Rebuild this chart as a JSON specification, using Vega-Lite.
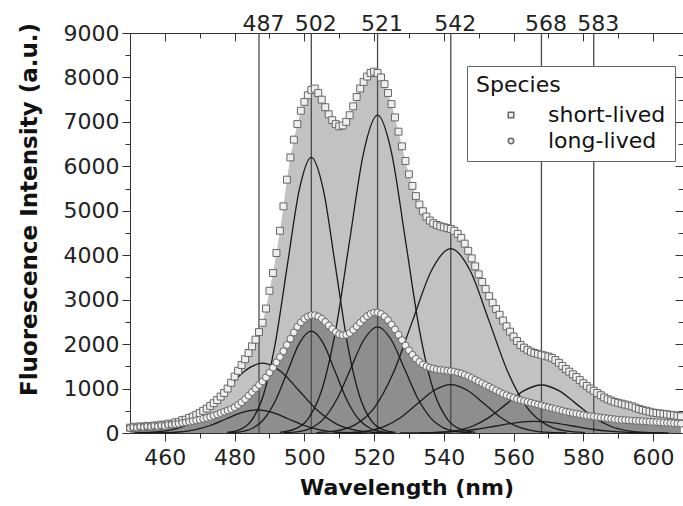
{
"$schema":"https://vega.github.io/schema/vega-lite/v6.json",
"width":553,"height":400,
"autosize":{"type":"none"},
"padding":{"left":130,"top":33,"right":0,"bottom":73},
"background":"white",
"config":{"view":{"stroke":null},"font":"DejaVu Sans",
 "axis":{"domainColor":"#333","tickColor":"#333","labelColor":"#222","titleColor":"#111","labelFont":"DejaVu Sans","titleFont":"DejaVu Sans","grid":false}},
"resolve":{"axis":{"x":"independent","y":"independent"}},
"datasets":{
"spec":[
{"w":450,"short-lived":120,"long-lived":110},{"w":451,"short-lived":140,"long-lived":130},{"w":452,"short-lived":110,"long-lived":120},{"w":453,"short-lived":150,"long-lived":140},{"w":454,"short-lived":130,"long-lived":130},{"w":455,"short-lived":160,"long-lived":150},{"w":456,"short-lived":140,"long-lived":140},{"w":457,"short-lived":170,"long-lived":160},{"w":458,"short-lived":160,"long-lived":150},{"w":459,"short-lived":190,"long-lived":170},
{"w":460,"short-lived":180,"long-lived":160},{"w":461,"short-lived":210,"long-lived":180},{"w":462,"short-lived":200,"long-lived":190},{"w":463,"short-lived":240,"long-lived":200},{"w":464,"short-lived":250,"long-lived":210},{"w":465,"short-lived":290,"long-lived":230},{"w":466,"short-lived":300,"long-lived":240},{"w":467,"short-lived":340,"long-lived":255},{"w":468,"short-lived":370,"long-lived":270},{"w":469,"short-lived":410,"long-lived":285},
{"w":470,"short-lived":450,"long-lived":300},{"w":471,"short-lived":500,"long-lived":320},{"w":472,"short-lived":550,"long-lived":340},{"w":473,"short-lived":610,"long-lived":360},{"w":474,"short-lived":670,"long-lived":390},{"w":475,"short-lived":740,"long-lived":420},{"w":476,"short-lived":820,"long-lived":450},{"w":477,"short-lived":900,"long-lived":480},{"w":478,"short-lived":1000,"long-lived":510},{"w":479,"short-lived":1130,"long-lived":540},
{"w":480,"short-lived":1270,"long-lived":580},{"w":481,"short-lived":1400,"long-lived":630},{"w":482,"short-lived":1530,"long-lived":690},{"w":483,"short-lived":1660,"long-lived":760},{"w":484,"short-lived":1800,"long-lived":840},{"w":485,"short-lived":1950,"long-lived":920},{"w":486,"short-lived":2100,"long-lived":1000},{"w":487,"short-lived":2270,"long-lived":1080},{"w":488,"short-lived":2480,"long-lived":1160},{"w":489,"short-lived":2800,"long-lived":1250},
{"w":490,"short-lived":3200,"long-lived":1360},{"w":491,"short-lived":3600,"long-lived":1470},{"w":492,"short-lived":4050,"long-lived":1590},{"w":493,"short-lived":4550,"long-lived":1710},{"w":494,"short-lived":5100,"long-lived":1840},{"w":495,"short-lived":5700,"long-lived":1980},{"w":496,"short-lived":6200,"long-lived":2120},{"w":497,"short-lived":6600,"long-lived":2260},{"w":498,"short-lived":6950,"long-lived":2390},{"w":499,"short-lived":7250,"long-lived":2490},
{"w":500,"short-lived":7450,"long-lived":2570},{"w":501,"short-lived":7600,"long-lived":2620},{"w":502,"short-lived":7720,"long-lived":2650},{"w":503,"short-lived":7750,"long-lived":2650},{"w":504,"short-lived":7650,"long-lived":2620},{"w":505,"short-lived":7500,"long-lived":2570},{"w":506,"short-lived":7330,"long-lived":2500},{"w":507,"short-lived":7170,"long-lived":2420},{"w":508,"short-lived":7040,"long-lived":2340},{"w":509,"short-lived":6950,"long-lived":2270},
{"w":510,"short-lived":6900,"long-lived":2220},{"w":511,"short-lived":6920,"long-lived":2200},{"w":512,"short-lived":7000,"long-lived":2210},{"w":513,"short-lived":7150,"long-lived":2250},{"w":514,"short-lived":7350,"long-lived":2320},{"w":515,"short-lived":7560,"long-lived":2400},{"w":516,"short-lived":7750,"long-lived":2480},{"w":517,"short-lived":7900,"long-lived":2560},{"w":518,"short-lived":8020,"long-lived":2630},{"w":519,"short-lived":8100,"long-lived":2680},
{"w":520,"short-lived":8130,"long-lived":2710},{"w":521,"short-lived":8100,"long-lived":2710},{"w":522,"short-lived":8000,"long-lived":2680},{"w":523,"short-lived":7850,"long-lived":2620},{"w":524,"short-lived":7650,"long-lived":2540},{"w":525,"short-lived":7400,"long-lived":2440},{"w":526,"short-lived":7100,"long-lived":2330},{"w":527,"short-lived":6780,"long-lived":2210},{"w":528,"short-lived":6450,"long-lived":2090},{"w":529,"short-lived":6120,"long-lived":1970},
{"w":530,"short-lived":5820,"long-lived":1860},{"w":531,"short-lived":5560,"long-lived":1760},{"w":532,"short-lived":5330,"long-lived":1670},{"w":533,"short-lived":5140,"long-lived":1600},{"w":534,"short-lived":4990,"long-lived":1540},{"w":535,"short-lived":4870,"long-lived":1500},{"w":536,"short-lived":4780,"long-lived":1470},{"w":537,"short-lived":4720,"long-lived":1450},{"w":538,"short-lived":4680,"long-lived":1430},{"w":539,"short-lived":4650,"long-lived":1420},
{"w":540,"short-lived":4630,"long-lived":1410},{"w":541,"short-lived":4610,"long-lived":1400},{"w":542,"short-lived":4590,"long-lived":1390},{"w":543,"short-lived":4550,"long-lived":1380},{"w":544,"short-lived":4480,"long-lived":1360},{"w":545,"short-lived":4390,"long-lived":1340},{"w":546,"short-lived":4260,"long-lived":1310},{"w":547,"short-lived":4100,"long-lived":1280},{"w":548,"short-lived":3930,"long-lived":1240},{"w":549,"short-lived":3750,"long-lived":1200},
{"w":550,"short-lived":3570,"long-lived":1160},{"w":551,"short-lived":3400,"long-lived":1120},{"w":552,"short-lived":3240,"long-lived":1080},{"w":553,"short-lived":3080,"long-lived":1040},{"w":554,"short-lived":2930,"long-lived":1000},{"w":555,"short-lived":2790,"long-lived":960},{"w":556,"short-lived":2660,"long-lived":920},{"w":557,"short-lived":2530,"long-lived":880},{"w":558,"short-lived":2400,"long-lived":850},{"w":559,"short-lived":2280,"long-lived":820},
{"w":560,"short-lived":2170,"long-lived":790},{"w":561,"short-lived":2070,"long-lived":760},{"w":562,"short-lived":1980,"long-lived":740},{"w":563,"short-lived":1920,"long-lived":720},{"w":564,"short-lived":1870,"long-lived":700},{"w":565,"short-lived":1830,"long-lived":680},{"w":566,"short-lived":1800,"long-lived":660},{"w":567,"short-lived":1780,"long-lived":640},{"w":568,"short-lived":1760,"long-lived":620},{"w":569,"short-lived":1740,"long-lived":600},
{"w":570,"short-lived":1720,"long-lived":580},{"w":571,"short-lived":1690,"long-lived":560},{"w":572,"short-lived":1640,"long-lived":540},{"w":573,"short-lived":1580,"long-lived":520},{"w":574,"short-lived":1510,"long-lived":500},{"w":575,"short-lived":1440,"long-lived":480},{"w":576,"short-lived":1380,"long-lived":465},{"w":577,"short-lived":1320,"long-lived":450},{"w":578,"short-lived":1260,"long-lived":435},{"w":579,"short-lived":1190,"long-lived":420},
{"w":580,"short-lived":1120,"long-lived":405},{"w":581,"short-lived":1060,"long-lived":390},{"w":582,"short-lived":1000,"long-lived":380},{"w":583,"short-lived":950,"long-lived":370},{"w":584,"short-lived":900,"long-lived":360},{"w":585,"short-lived":850,"long-lived":350},{"w":586,"short-lived":800,"long-lived":340},{"w":587,"short-lived":760,"long-lived":330},{"w":588,"short-lived":730,"long-lived":320},{"w":589,"short-lived":700,"long-lived":310},
{"w":590,"short-lived":680,"long-lived":300},{"w":591,"short-lived":660,"long-lived":295},{"w":592,"short-lived":640,"long-lived":290},{"w":593,"short-lived":620,"long-lived":285},{"w":594,"short-lived":600,"long-lived":280},{"w":595,"short-lived":570,"long-lived":275},{"w":596,"short-lived":540,"long-lived":270},{"w":597,"short-lived":520,"long-lived":265},{"w":598,"short-lived":500,"long-lived":260},{"w":599,"short-lived":480,"long-lived":255},
{"w":600,"short-lived":460,"long-lived":250},{"w":601,"short-lived":450,"long-lived":245},{"w":602,"short-lived":440,"long-lived":240},{"w":603,"short-lived":430,"long-lived":235},{"w":604,"short-lived":420,"long-lived":230},{"w":605,"short-lived":410,"long-lived":225},{"w":606,"short-lived":400,"long-lived":220},{"w":607,"short-lived":385,"long-lived":215},{"w":608,"short-lived":375,"long-lived":210}
],
"comps":[
{"c":"S1","w":451.25,"v":3.5},{"c":"S1","w":456.5,"v":17.4},{"c":"S1","w":461.75,"v":68.9},{"c":"S1","w":467,"v":212.4},{"c":"S1","w":472.25,"v":509.8},{"c":"S1","w":477.5,"v":952.2},{"c":"S1","w":482.75,"v":1385.5},{"c":"S1","w":488,"v":1570},{"c":"S1","w":493.25,"v":1385.5},{"c":"S1","w":498.5,"v":952.2},{"c":"S1","w":503.75,"v":509.8},{"c":"S1","w":509,"v":212.4},{"c":"S1","w":514.25,"v":68.9},{"c":"S1","w":519.5,"v":17.4},{"c":"S1","w":524.75,"v":3.5},
{"c":"S2","w":477.85,"v":13.6},{"c":"S2","w":481.3,"v":68.8},{"c":"S2","w":484.75,"v":272.2},{"c":"S2","w":488.2,"v":838.9},{"c":"S2","w":491.65,"v":2013.1},{"c":"S2","w":495.1,"v":3760.3},{"c":"S2","w":498.55,"v":5471.5},{"c":"S2","w":502,"v":6200},{"c":"S2","w":505.45,"v":5471.5},{"c":"S2","w":508.9,"v":3760.3},{"c":"S2","w":512.35,"v":2013.1},{"c":"S2","w":515.8,"v":838.9},{"c":"S2","w":519.25,"v":272.2},{"c":"S2","w":522.7,"v":68.8},{"c":"S2","w":526.15,"v":13.6},
{"c":"S3","w":493,"v":15.7},{"c":"S3","w":497,"v":79.4},{"c":"S3","w":501,"v":313.9},{"c":"S3","w":505,"v":967.4},{"c":"S3","w":509,"v":2321.6},{"c":"S3","w":513,"v":4336.5},{"c":"S3","w":517,"v":6309.9},{"c":"S3","w":521,"v":7150},{"c":"S3","w":525,"v":6309.9},{"c":"S3","w":529,"v":4336.5},{"c":"S3","w":533,"v":2321.6},{"c":"S3","w":537,"v":967.4},{"c":"S3","w":541,"v":313.9},{"c":"S3","w":545,"v":79.4},{"c":"S3","w":549,"v":15.7},
{"c":"S4","w":503.5,"v":9.1},{"c":"S4","w":509,"v":46.1},{"c":"S4","w":514.5,"v":182.2},{"c":"S4","w":520,"v":561.5},{"c":"S4","w":525.5,"v":1347.5},{"c":"S4","w":531,"v":2517},{"c":"S4","w":536.5,"v":3662.4},{"c":"S4","w":542,"v":4150},{"c":"S4","w":547.5,"v":3662.4},{"c":"S4","w":553,"v":2517},{"c":"S4","w":558.5,"v":1347.5},{"c":"S4","w":564,"v":561.5},{"c":"S4","w":569.5,"v":182.2},{"c":"S4","w":575,"v":46.1},{"c":"S4","w":580.5,"v":9.1},
{"c":"S5","w":533,"v":2.4},{"c":"S5","w":538,"v":12},{"c":"S5","w":543,"v":47.4},{"c":"S5","w":548,"v":146.1},{"c":"S5","w":553,"v":350.7},{"c":"S5","w":558,"v":655},{"c":"S5","w":563,"v":953.1},{"c":"S5","w":568,"v":1080},{"c":"S5","w":573,"v":953.1},{"c":"S5","w":578,"v":655},{"c":"S5","w":583,"v":350.7},{"c":"S5","w":588,"v":146.1},{"c":"S5","w":593,"v":47.4},{"c":"S5","w":598,"v":12},{"c":"S5","w":603,"v":2.4},
{"c":"L1","w":455,"v":1.1},{"c":"L1","w":459.5,"v":5.8},{"c":"L1","w":464,"v":22.8},{"c":"L1","w":468.5,"v":70.4},{"c":"L1","w":473,"v":168.8},{"c":"L1","w":477.5,"v":315.4},{"c":"L1","w":482,"v":458.9},{"c":"L1","w":486.5,"v":520},{"c":"L1","w":491,"v":458.9},{"c":"L1","w":495.5,"v":315.4},{"c":"L1","w":500,"v":168.8},{"c":"L1","w":504.5,"v":70.4},{"c":"L1","w":509,"v":22.8},{"c":"L1","w":513.5,"v":5.8},{"c":"L1","w":518,"v":1.1},
{"c":"L2","w":478.2,"v":5},{"c":"L2","w":481.6,"v":25.4},{"c":"L2","w":485,"v":100.5},{"c":"L2","w":488.4,"v":309.8},{"c":"L2","w":491.8,"v":743.6},{"c":"L2","w":495.2,"v":1388.9},{"c":"L2","w":498.6,"v":2020.9},{"c":"L2","w":502,"v":2290},{"c":"L2","w":505.4,"v":2020.9},{"c":"L2","w":508.8,"v":1388.9},{"c":"L2","w":512.2,"v":743.6},{"c":"L2","w":515.6,"v":309.8},{"c":"L2","w":519,"v":100.5},{"c":"L2","w":522.4,"v":25.4},{"c":"L2","w":525.8,"v":5},
{"c":"L3","w":494.05,"v":5.3},{"c":"L3","w":497.9,"v":26.5},{"c":"L3","w":501.75,"v":104.9},{"c":"L3","w":505.6,"v":323.4},{"c":"L3","w":509.45,"v":776},{"c":"L3","w":513.3,"v":1449.5},{"c":"L3","w":517.15,"v":2109.2},{"c":"L3","w":521,"v":2390},{"c":"L3","w":524.85,"v":2109.2},{"c":"L3","w":528.7,"v":1449.5},{"c":"L3","w":532.55,"v":776},{"c":"L3","w":536.4,"v":323.4},{"c":"L3","w":540.25,"v":104.9},{"c":"L3","w":544.1,"v":26.5},{"c":"L3","w":547.95,"v":5.3},
{"c":"L4","w":508.75,"v":2.4},{"c":"L4","w":513.5,"v":12.1},{"c":"L4","w":518.25,"v":47.9},{"c":"L4","w":523,"v":147.5},{"c":"L4","w":527.75,"v":353.9},{"c":"L4","w":532.5,"v":661.1},{"c":"L4","w":537.25,"v":961.9},{"c":"L4","w":542,"v":1090},{"c":"L4","w":546.75,"v":961.9},{"c":"L4","w":551.5,"v":661.1},{"c":"L4","w":556.25,"v":353.9},{"c":"L4","w":561,"v":147.5},{"c":"L4","w":565.75,"v":47.9},{"c":"L4","w":570.5,"v":12.1},{"c":"L4","w":575.25,"v":2.4},
{"c":"L5","w":527.5,"v":0.6},{"c":"L5","w":533,"v":2.9},{"c":"L5","w":538.5,"v":11.4},{"c":"L5","w":544,"v":35.2},{"c":"L5","w":549.5,"v":84.4},{"c":"L5","w":555,"v":157.7},{"c":"L5","w":560.5,"v":229.5},{"c":"L5","w":566,"v":260},{"c":"L5","w":571.5,"v":229.5},{"c":"L5","w":577,"v":157.7},{"c":"L5","w":582.5,"v":84.4},{"c":"L5","w":588,"v":35.2},{"c":"L5","w":593.5,"v":11.4},{"c":"L5","w":599,"v":2.9},{"c":"L5","w":604.5,"v":0.6}
],
"peaks":[{"p":487},{"p":502},{"p":521},{"p":542},{"p":568},{"p":583}]
},
"layer":[
{"data":{"name":"spec"},"mark":{"type":"area","color":"#c2c2c2"},
 "encoding":{
  "x":{"field":"w","type":"quantitative","scale":{"domain":[450,608.6],"nice":false,"zero":false},
   "axis":{"orient":"bottom","values":[460,470,480,490,500,510,520,530,540,550,560,570,580,590,600],"labelExpr":"datum.value % 20 === 0 ? datum.label : ''","format":"d","tickSize":{"condition":{"test":"datum.value % 20 === 0","value":8},"value":5},"labelFontSize":22,"labelPadding":6,"title":"Wavelength (nm)","titleFontSize":22,"titleFontWeight":"bold","titlePadding":9}},
  "y":{"field":"short-lived","type":"quantitative","scale":{"domain":[0,9000],"nice":false},
   "axis":{"orient":"left","values":[0,500,1000,1500,2000,2500,3000,3500,4000,4500,5000,5500,6000,6500,7000,7500,8000,8500,9000],"labelExpr":"datum.value % 1000 === 0 ? datum.label : ''","format":"d","tickSize":{"condition":{"test":"datum.value % 1000 === 0","value":8},"value":5},"labelFontSize":22,"labelPadding":3,"title":"Fluorescence Intensity (a.u.)","titleFontSize":23,"titleFontWeight":"bold","titlePadding":22,"titleY":176}}}},
{"data":{"name":"spec"},"mark":{"type":"area","color":"#8e8e8e"},
 "encoding":{
  "x":{"field":"w","type":"quantitative","scale":{"domain":[450,608.6],"nice":false,"zero":false},"axis":null},
  "y":{"field":"long-lived","type":"quantitative","scale":{"domain":[0,9000],"nice":false},"axis":null}}},
{"data":{"name":"peaks"},"mark":{"type":"rule","color":"#4a4a4a","strokeWidth":1.3},
 "encoding":{
  "x":{"field":"p","type":"quantitative","scale":{"domain":[450,608.6],"nice":false,"zero":false},
   "axis":{"orient":"top","values":[460,470,480,487,490,500,502,510,520,521,530,540,542,550,560,568,570,580,583,590,600],"labelExpr":"indexof([487,502,521,542,568,583], datum.value) >= 0 ? datum.label : ''","format":"d","tickSize":{"condition":[{"test":"indexof([487,502,521,542,568,583], datum.value) >= 0","value":0},{"test":"datum.value % 20 === 0","value":-8}],"value":-5},"labelFontSize":22,"labelPadding":-2,"labelOffset":4,"title":null}},
  "y":{"datum":0,"type":"quantitative","scale":{"domain":[0,9000],"nice":false},
   "axis":{"orient":"right","values":[0,500,1000,1500,2000,2500,3000,3500,4000,4500,5000,5500,6000,6500,7000,7500,8000,8500,9000],"labels":false,"domain":false,"tickSize":{"condition":{"test":"datum.value % 1000 === 0","value":-8},"value":-5},"title":null}},
  "y2":{"datum":9000}}},
{"data":{"name":"comps"},"mark":{"type":"line","color":"#1a1a1a","strokeWidth":1.3,"interpolate":"monotone"},
 "encoding":{
  "x":{"field":"w","type":"quantitative","scale":{"domain":[450,608.6],"nice":false,"zero":false},"axis":null},
  "y":{"field":"v","type":"quantitative","scale":{"domain":[0,9000],"nice":false},"axis":null},
  "detail":{"field":"c","type":"nominal"}}},
{"data":{"name":"spec"},"transform":[{"fold":["short-lived","long-lived"],"as":["species","v"]}],
 "mark":{"type":"point","filled":true,"fill":"#efefef","stroke":"#666","strokeWidth":1,"size":48,"opacity":1},
 "encoding":{
  "x":{"field":"w","type":"quantitative","scale":{"domain":[450,608.6],"nice":false,"zero":false},"axis":null},
  "y":{"field":"v","type":"quantitative","scale":{"domain":[0,9000],"nice":false},"axis":null},
  "shape":{"field":"species","type":"nominal","scale":{"domain":["short-lived","long-lived"],"range":["square","circle"]},
   "legend":{"title":"Species","orient":"none","legendX":337,"legendY":33,"fillColor":"white","strokeColor":"#666","padding":9,"titleFontSize":22,"titleFontWeight":"normal","titleColor":"#111","labelFontSize":22,"labelColor":"#111","symbolSize":30,"symbolOffset":24,"labelOffset":26,"rowPadding":4,"titlePadding":7,
    "encode":{"symbols":{"update":{"fill":{"value":"#e0e0e0"},"stroke":{"value":"#666"},"strokeWidth":{"value":1.2},"opacity":{"value":1}}}}}}}}
]
}
